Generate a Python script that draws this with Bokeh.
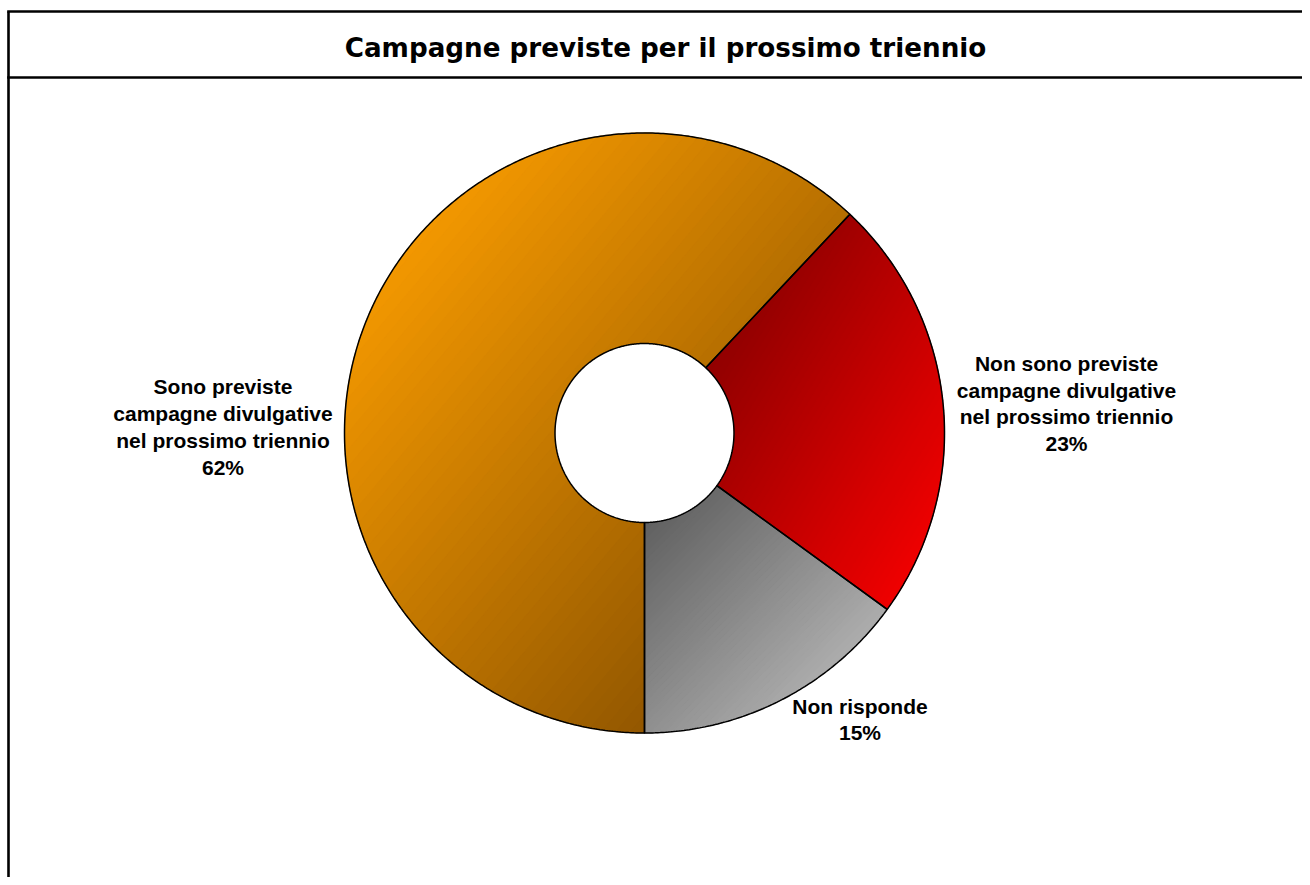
import numpy as np
from bokeh.plotting import figure
from bokeh.models import Range1d
from bokeh.core.properties import value
from bokeh.embed import file_html
from bokeh.resources import INLINE

# ---------------- data ----------------
title_text = "Campagne previste per il prossimo triennio"
categories = [
    "Sono previste\ncampagne divulgative\nnel prossimo triennio",
    "Non sono previste\ncampagne divulgative\nnel prossimo triennio",
    "Non risponde",
]
values = [62, 23, 15]
pct_labels = ["62%", "23%", "15%"]

# ---------------- styles / layout ----------------
W, H = 1302, 877
PAGE_H = 885
CX, CY = 644.0, PAGE_H - 432.5
R_OUT, R_IN = 300.0, 89.5
START_DEG = 180.0  # clockwise from 12 o'clock
grad_colors = [("#FFA000", "#7C4800"), ("#800000", "#FF0000"), ("#575757", "#C2C2C2")]
grad_span = [(0.08, 0.95), (0.08, 1.0), (0.0, 0.95)]
label_pos = [(222.5, 426.5), (1066.0, 403.0), (859.5, 719.0)]  # page px centres
LINE_STEP = 26.7
LABEL_FONT = "Liberation Sans"
N_BANDS = 70

p = figure(width=W, height=H, output_backend="svg", toolbar_location=None,
           x_range=Range1d(0, W), y_range=Range1d(PAGE_H - H, PAGE_H),
           x_axis_type=None, y_axis_type=None, min_border=0)
p.grid.visible = False
p.outline_line_color = None
p.background_fill_color = "white"
p.border_fill_color = "white"


def hex2rgb(h):
    h = h.lstrip("#")
    return np.array([int(h[i:i + 2], 16) for i in (0, 2, 4)], dtype=float)


def rgb2hex(c):
    c = np.clip(np.round(c), 0, 255).astype(int)
    return "#%02x%02x%02x" % tuple(c)


def clip_half(poly, f):
    out = []
    n = len(poly)
    for i in range(n):
        P, Q = poly[i], poly[(i + 1) % n]
        fp, fq = f(P), f(Q)
        if fp >= 0:
            out.append(P)
        if (fp >= 0) != (fq >= 0):
            s = fp / (fp - fq)
            out.append((P[0] + s * (Q[0] - P[0]), P[1] + s * (Q[1] - P[1])))
    return out


total = float(sum(values))
angles = np.cumsum([0.0] + [v / total * 360.0 for v in values]) + START_DEG

band_xs, band_ys, band_cols = [], [], []
out_xs, out_ys = [], []
for i, v in enumerate(values):
    a0, a1 = np.radians(angles[i]), np.radians(angles[i + 1])
    n = max(int(abs(angles[i + 1] - angles[i]) * 2), 8)
    th = np.linspace(a0, a1, n)
    th_r = th[::-1]
    xs = np.concatenate([CX + R_OUT * np.sin(th), CX + R_IN * np.sin(th_r)])
    ys = np.concatenate([CY + R_OUT * np.cos(th), CY + R_IN * np.cos(th_r)])
    out_xs.append(list(xs))
    out_ys.append(list(ys))
    poly = list(zip(xs, ys))
    xmin, xmax = xs.min(), xs.max()
    ymin, ymax = ys.min(), ys.max()
    w, h = xmax - xmin, ymax - ymin

    def tfun(P, xmin=xmin, ymax=ymax, w=w, h=h):
        return ((P[0] - xmin) / w + (ymax - P[1]) / h) / 2.0

    c0, c1 = hex2rgb(grad_colors[i][0]), hex2rgb(grad_colors[i][1])
    g0, g1 = grad_span[i]
    eps = 0.004
    for k in range(N_BANDS):
        lo, hi = k / N_BANDS, (k + 1) / N_BANDS
        sub = clip_half(poly, lambda P, lo=lo: tfun(P) - (lo - eps))
        if len(sub) < 3:
            continue
        sub = clip_half(sub, lambda P, hi=hi: (hi + eps) - tfun(P))
        if len(sub) < 3:
            continue
        tm = (lo + hi) / 2.0
        u = np.clip((tm - g0) / (g1 - g0), 0, 1)
        col = rgb2hex(c0 + (c1 - c0) * u)
        band_xs.append([q[0] for q in sub])
        band_ys.append([q[1] for q in sub])
        band_cols.append(col)

p.patches(band_xs, band_ys, fill_color=band_cols, line_color=band_cols, line_width=0.6)
# clean hole
p.circle(x=[CX], y=[CY], radius=R_IN - 0.3, fill_color="white", line_color=None)
p.patches(out_xs, out_ys, fill_color=None, line_color="black", line_width=1.5)

# labels
for i, cat in enumerate(categories):
    lines = cat.split("\n") + [pct_labels[i]]
    lx, ly = label_pos[i]
    nL = len(lines)
    ys_l = [PAGE_H - (ly + (j - (nL - 1) / 2.0) * LINE_STEP) for j in range(nL)]
    p.text(x=[lx] * nL, y=ys_l, text=lines, text_align="center", text_baseline="middle",
           text_font=value(LABEL_FONT), text_font_style="bold", text_font_size="21px",
           text_color="black")

# title
p.text(x=[665], y=[PAGE_H - 47], text=[title_text], text_align="center", text_baseline="middle",
       text_font=value("DejaVu Sans"), text_font_style="bold", text_font_size="26.2px",
       text_color="black")

# frame lines (chart area border + title separator)
p.segment(x0=[8.0, 6.7, 6.7], y0=[PAGE_H - 11, PAGE_H - 11, PAGE_H - 77],
          x1=[8.0, W + 10, W + 10], y1=[-10, PAGE_H - 11, PAGE_H - 77],
          line_color="black", line_width=2.6)

open("out.html", "w").write(file_html(p, INLINE))
